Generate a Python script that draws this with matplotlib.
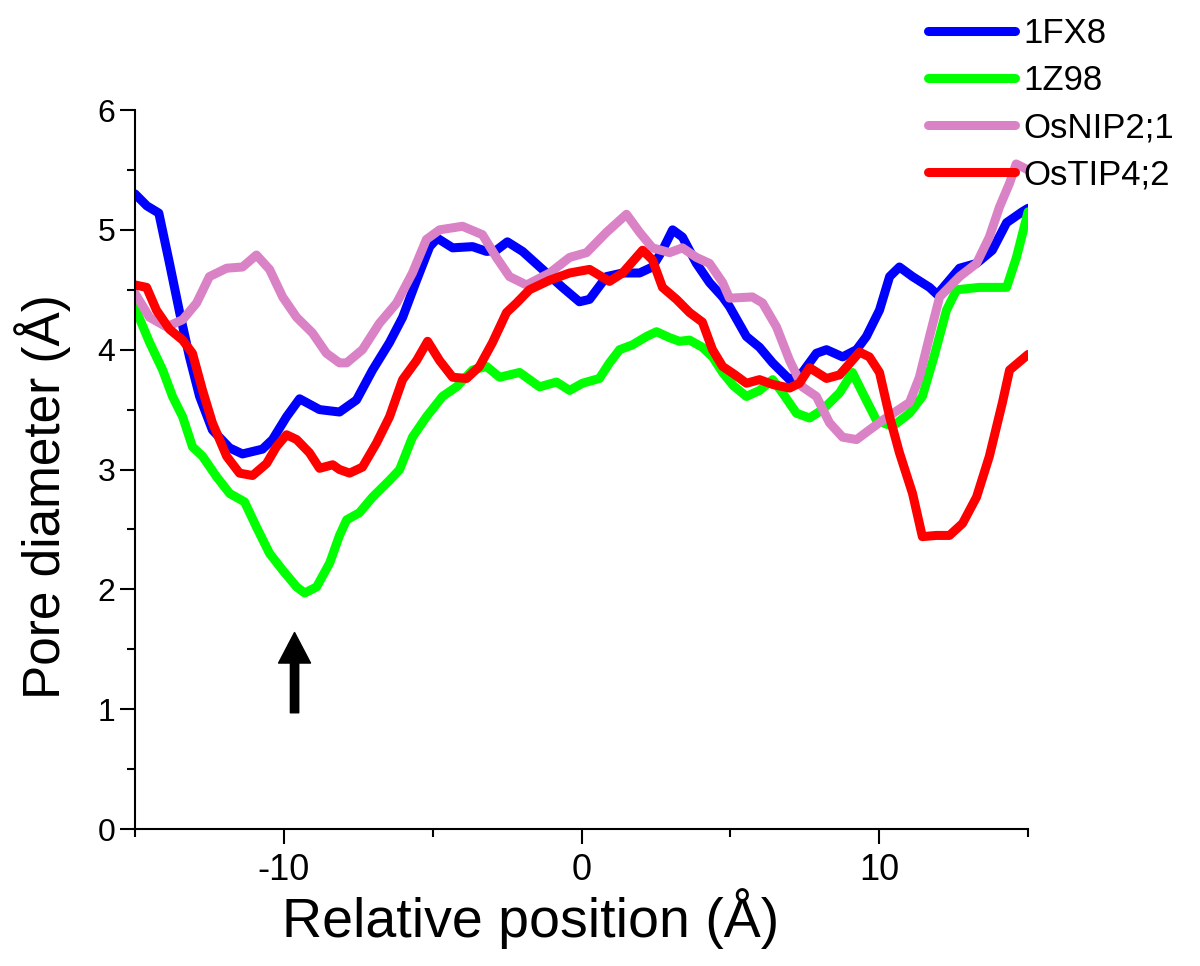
import matplotlib
matplotlib.use('Agg')
import matplotlib.pyplot as plt
from matplotlib.ticker import MultipleLocator

plt.rcParams['font.family'] = ['Liberation Sans', 'DejaVu Sans']
plt.rcParams['axes.unicode_minus'] = False

# pore diameter profiles
x_1fx8 = [-15.0, -14.6, -14.2, -13.84, -13.5, -13.17, -12.83, -12.4, -11.82, -11.39,
          -10.72, -10.38, -9.91, -9.47, -8.8, -8.13, -7.56, -7.02, -6.45, -6.01,
          -5.54, -5.1, -4.84, -4.33, -3.66, -3.19, -2.86, -2.49, -1.98, -1.31,
          -0.64, -0.07, 0.27, 0.84, 1.38, 1.95, 2.38, 2.72, 3.06, 3.39,
          3.86, 4.3, 4.74, 4.97, 5.54, 5.98, 6.42, 6.99, 7.42, 7.89,
          8.23, 8.77, 9.24, 9.57, 10.01, 10.35, 10.68, 11.12, 11.69, 11.95,
          12.7, 13.27, 13.8, 14.28, 14.8, 15.0]
y_1fx8 = [5.30, 5.20, 5.14, 4.72, 4.31, 3.94, 3.61, 3.33, 3.18, 3.13,
          3.17, 3.25, 3.44, 3.59, 3.50, 3.48, 3.58, 3.83, 4.06, 4.27,
          4.58, 4.86, 4.93, 4.85, 4.86, 4.82, 4.83, 4.90, 4.82, 4.67,
          4.52, 4.40, 4.42, 4.61, 4.64, 4.64, 4.69, 4.83, 5.00, 4.94,
          4.72, 4.56, 4.44, 4.36, 4.11, 4.02, 3.89, 3.75, 3.81, 3.97,
          4.00, 3.94, 4.00, 4.11, 4.33, 4.61, 4.69, 4.61, 4.52, 4.46,
          4.68, 4.72, 4.83, 5.06, 5.15, 5.18]

x_1z98 = [-15.0, -14.51, -14.07, -13.74, -13.4, -13.07, -12.73, -12.26, -11.82, -11.32,
          -10.92, -10.48, -10.04, -9.57, -9.3, -8.9, -8.46, -8.13, -7.89, -7.46,
          -7.02, -6.45, -6.11, -5.68, -5.21, -4.67, -4.2, -3.66, -3.19, -2.75,
          -2.08, -1.41, -0.84, -0.4, 0.03, 0.6, 0.94, 1.28, 1.71, 2.18,
          2.52, 2.96, 3.29, 3.63, 4.06, 4.4, 4.74, 5.1, 5.54, 5.98,
          6.42, 6.75, 7.22, 7.66, 8.1, 8.67, 9.1, 9.44, 9.91, 10.45,
          11.02, 11.45, 11.85, 12.26, 12.6, 13.37, 14.28, 14.61, 15.0]
y_1z98 = [4.35, 4.06, 3.83, 3.61, 3.44, 3.19, 3.11, 2.94, 2.80, 2.73,
          2.52, 2.30, 2.16, 2.02, 1.97, 2.02, 2.22, 2.45, 2.58, 2.64,
          2.77, 2.91, 3.00, 3.27, 3.44, 3.61, 3.69, 3.83, 3.86, 3.77,
          3.81, 3.69, 3.73, 3.66, 3.72, 3.76, 3.89, 4.00, 4.04, 4.11,
          4.15, 4.10, 4.07, 4.08, 4.02, 3.94, 3.81, 3.70, 3.61, 3.66,
          3.75, 3.64, 3.47, 3.43, 3.50, 3.64, 3.81, 3.64, 3.41, 3.36,
          3.47, 3.61, 3.95, 4.33, 4.50, 4.52, 4.52, 4.77, 5.15]

x_nip = [-15.0, -14.51, -13.94, -13.4, -12.93, -12.5, -11.92, -11.39, -10.92, -10.48,
         -10.04, -9.57, -9.04, -8.57, -8.13, -7.89, -7.36, -6.79, -6.21, -5.68,
         -5.21, -4.77, -4.0, -3.33, -2.86, -2.42, -1.85, -1.07, -0.4, 0.17,
         0.84, 1.51, 1.95, 2.38, 2.96, 3.39, 3.86, 4.3, 4.74, 4.97,
         5.74, 6.08, 6.55, 6.99, 7.42, 7.89, 8.33, 8.77, 9.24, 9.67,
         10.11, 11.02, 11.35, 11.69, 12.03, 12.7, 13.27, 13.7, 14.04, 14.38,
         14.6, 15.0]
y_nip = [4.47, 4.27, 4.19, 4.25, 4.39, 4.61, 4.68, 4.69, 4.79, 4.67,
         4.44, 4.27, 4.14, 3.97, 3.89, 3.89, 4.00, 4.22, 4.39, 4.64,
         4.92, 5.00, 5.03, 4.96, 4.77, 4.61, 4.54, 4.64, 4.77, 4.81,
         4.98, 5.13, 4.98, 4.85, 4.81, 4.85, 4.77, 4.72, 4.56, 4.43,
         4.44, 4.39, 4.19, 3.91, 3.69, 3.61, 3.39, 3.27, 3.25, 3.33,
         3.41, 3.56, 3.77, 4.11, 4.44, 4.61, 4.72, 4.94, 5.19, 5.39,
         5.55, 5.50]

x_tip = [-15.0, -14.61, -14.28, -13.84, -13.4, -13.07, -12.73, -12.4, -11.92, -11.49,
         -11.05, -10.58, -10.25, -9.91, -9.57, -9.14, -8.8, -8.36, -8.13, -7.79,
         -7.36, -6.89, -6.45, -6.01, -5.54, -5.17, -4.77, -4.33, -3.86, -3.43,
         -2.99, -2.52, -2.18, -1.75, -1.07, -0.4, 0.27, 0.94, 1.38, 2.05,
         2.38, 2.72, 3.19, 3.63, 4.06, 4.4, 4.74, 5.1, 5.54, 5.98,
         6.42, 6.99, 7.32, 7.66, 8.23, 8.67, 9.34, 9.67, 10.01, 10.35,
         10.68, 11.12, 11.45, 11.92, 12.36, 12.8, 13.27, 13.7, 14.14, 14.38,
         15.0]
y_tip = [4.54, 4.52, 4.33, 4.17, 4.08, 3.97, 3.66, 3.39, 3.11, 2.97,
         2.95, 3.05, 3.19, 3.29, 3.25, 3.14, 3.01, 3.04, 3.00, 2.97,
         3.02, 3.22, 3.44, 3.75, 3.91, 4.07, 3.91, 3.77, 3.76, 3.86,
         4.06, 4.31, 4.39, 4.50, 4.58, 4.64, 4.67, 4.57, 4.64, 4.83,
         4.75, 4.52, 4.42, 4.31, 4.23, 4.00, 3.86, 3.80, 3.72, 3.75,
         3.71, 3.68, 3.72, 3.85, 3.76, 3.79, 3.98, 3.94, 3.81, 3.44,
         3.14, 2.80, 2.44, 2.45, 2.45, 2.55, 2.77, 3.11, 3.56, 3.83,
         3.96]

labels = ['1FX8', '1Z98', 'OsNIP2;1', 'OsTIP4;2']
colors = ['#0000ff', '#00ff00', '#da82c6', '#ff0000']

# arrow marking the constriction
arrow_x = -9.64
arrow_y0, arrow_y1 = 0.97, 1.64

fig = plt.figure(figsize=(12, 9.66), dpi=100)
ax = fig.add_axes([0.1125, 0.1418, 0.7442, 0.7443])

series = [(x_1fx8, y_1fx8), (x_1z98, y_1z98), (x_nip, y_nip), (x_tip, y_tip)]
for (xs, ys), lab, c in zip(series, labels, colors):
    ax.plot(xs, ys, color=c, lw=6.5, label=lab, solid_capstyle='round',
            solid_joinstyle='round')

ax.annotate('', xy=(arrow_x, arrow_y1), xytext=(arrow_x, arrow_y0),
            arrowprops=dict(arrowstyle='simple, head_width=1.15, head_length=1.1, tail_width=0.3',
                            mutation_scale=20, color='black', shrinkA=0, shrinkB=0))

ax.set_xlim(-15, 15)
ax.set_ylim(0, 6)
ax.xaxis.set_major_locator(MultipleLocator(10))
ax.xaxis.set_minor_locator(MultipleLocator(5))
ax.yaxis.set_major_locator(MultipleLocator(1))
ax.yaxis.set_minor_locator(MultipleLocator(0.5))

for s in ['top', 'right']:
    ax.spines[s].set_visible(False)
for s in ['left', 'bottom']:
    ax.spines[s].set_linewidth(1.5)

ax.tick_params(axis='both', which='major', direction='out', length=11, width=1.5)
ax.tick_params(axis='both', which='minor', direction='out', length=6, width=1.5)
ax.tick_params(axis='x', which='major', labelsize=26, pad=6)
ax.tick_params(axis='y', which='major', labelsize=23, pad=3)

ax.set_xlabel('Relative position (Å)', fontsize=40)
ax.set_ylabel('Pore diameter (Å)', fontsize=37)
ax.xaxis.set_label_coords(0.443, -0.082)
ax.yaxis.set_label_coords(-0.072, 0.462)

fig.legend(loc='upper left', bbox_to_anchor=(0.759, 1.0), frameon=False,
           fontsize=25, handlelength=2.5, handletextpad=0.25, labelspacing=0.4,
           borderaxespad=0.1)

fig.savefig('out.png', dpi=100)
